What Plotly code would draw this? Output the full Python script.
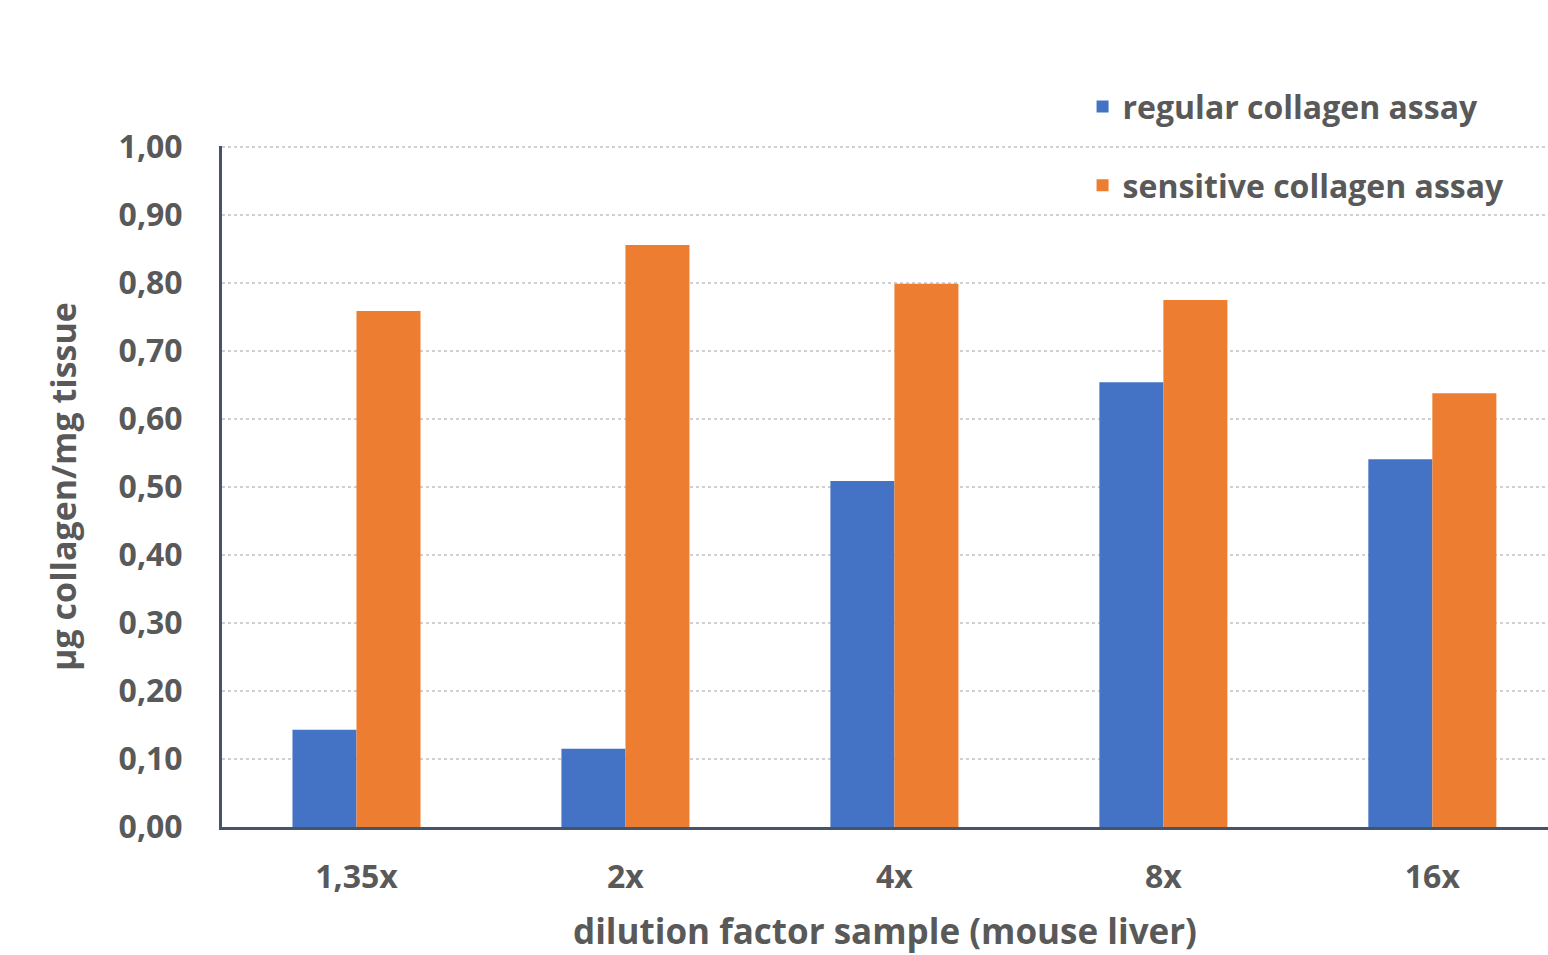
import plotly.graph_objects as go

categories = ["1,35x", "2x", "4x", "8x", "16x"]
regular = [0.143, 0.115, 0.509, 0.654, 0.541]
sensitive = [0.759, 0.856, 0.799, 0.775, 0.638]
y_ticks = [0.0, 0.1, 0.2, 0.3, 0.4, 0.5, 0.6, 0.7, 0.8, 0.9, 1.0]
y_tick_labels = ["0,00", "0,10", "0,20", "0,30", "0,40", "0,50", "0,60", "0,70", "0,80", "0,90", "1,00"]

FONT = "Open Sans"
GRAY = "#595959"

fig = go.Figure()
fig.add_trace(go.Bar(name="regular collagen assay", x=categories, y=regular,
                     marker=dict(color="#4472C4", line=dict(width=0)), legendgroup="a"))
fig.add_trace(go.Bar(name="sensitive collagen assay", x=categories, y=sensitive,
                     marker=dict(color="#ED7D31", line=dict(width=0)), legendgroup="b"))

fig.update_layout(
    width=1548, height=955,
    margin=dict(l=222, r=0, t=146, b=128),
    paper_bgcolor="white", plot_bgcolor="white",
    barmode="group", bargap=0.524, bargroupgap=0,
    font=dict(family=FONT, color=GRAY, size=32, weight="bold"),
    showlegend=True,
    legend=dict(x=0.649, y=1.098, xanchor="left", yanchor="top",
                bgcolor="rgba(0,0,0,0)", traceorder="grouped", tracegroupgap=34,
                font=dict(family=FONT, size=32, color=GRAY, weight="bold"),
                itemsizing="constant"),
    xaxis=dict(range=[-0.5, 4.43], showline=True, linecolor="#44546A", linewidth=3,
               ticks="", showgrid=False, tickfont=dict(size=32, color=GRAY),
               ticklabelstandoff=20, automargin=False),
    yaxis=dict(range=[0, 1.0015], tickvals=y_ticks, ticktext=y_tick_labels,
               showline=True, linecolor="#44546A", linewidth=3, ticks="",
               showgrid=True, gridcolor="#D0D0D0", gridwidth=2, griddash="dot",
               zeroline=False, tickfont=dict(size=32, color=GRAY), ticklabelstandoff=30,
               automargin=False,
               title=dict(text="µg collagen/mg tissue", standoff=32,
                          font=dict(size=34, color=GRAY))),
    annotations=[dict(text="dilution factor sample (mouse liver)", xref="paper", yref="paper",
                      x=0.5, y=-0.152, xanchor="center", yanchor="middle", showarrow=False,
                      font=dict(family=FONT, size=35, color=GRAY, weight="bold"))],
)

fig.write_html("out.html")
